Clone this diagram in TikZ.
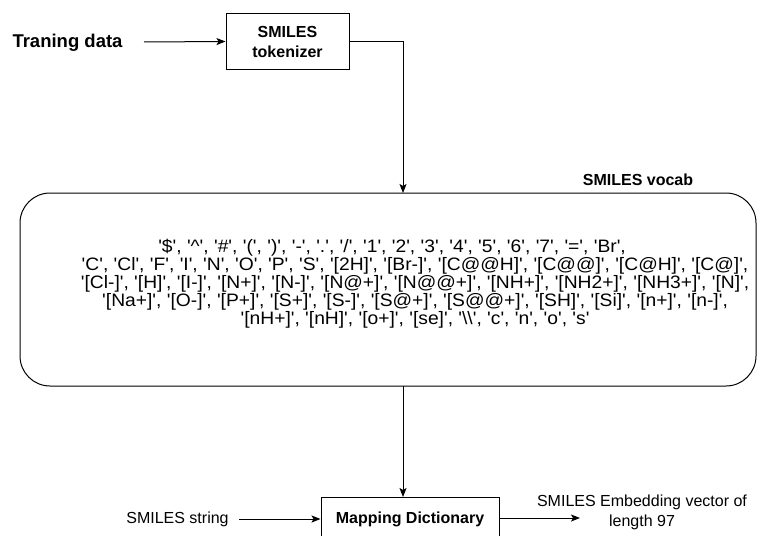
\documentclass[tikz,border=0pt]{standalone}
\usepackage{fontspec}
\newfontfamily\lib{Liberation Sans}
\newfontfamily\libwide{Liberation Sans}[FakeStretch=1.07]
\usetikzlibrary{arrows.meta}
\tikzset{
  x=1pt, y=-1pt,
  every node/.style={font=\lib, inner sep=0pt},
  conn/.style={line width=1pt, -{Stealth[length=9pt,width=7pt,inset=2pt]}},
  plainconn/.style={line width=1pt},
  box/.style={draw, line width=1pt},
}
\begin{document}
\begin{tikzpicture}
\useasboundingbox (0,0) rectangle (757,535);
\clip (0,0) rectangle (757,535);
% training
\node[font=\lib\bfseries\fontsize{18.5}{22}\selectfont] (train) at (67.5,43) {Traning data};
\node[box, minimum width=123pt, minimum height=55pt, align=center,
      font=\lib\bfseries\fontsize{16}{20}\selectfont] (tok) at (287.5,41.5) {SMILES\\tokenizer};
\coordinate (trainend) at (144,42);
\draw[conn] (trainend) -- (tok.west);
% vocab
\draw[box, rounded corners=30pt] (20,193) rectangle (756,386);
\coordinate (vtop) at (403,193);
\coordinate (vbot) at (403,386);
\node[font=\lib\bfseries\fontsize{16}{19}\selectfont] (vlabel) at (638,180) {SMILES vocab};
\coordinate (tokturn) at (403,41.5);
\draw[plainconn] (tok.east) -- (tokturn);
\draw[conn] (tokturn) -- (vtop);
\node[align=center, font=\libwide\fontsize{18}{18}\selectfont] (vtext) at (415,284) {%
'\$', '\textasciicircum', '\#', '(', ')', '-', '.', '/', '1', '2', '3', '4', '5', '6', '7', '=', 'Br',\hspace*{46pt}\\
'C', 'Cl', 'F', 'I', 'N', 'O', 'P', 'S', '[2H]', '[Br-]', '[C@@H]', '[C@@]', '[C@H]', '[C@]',\\
'[Cl-]', '[H]', '[I-]', '[N+]', '[N-]', '[N@+]', '[N@@+]', '[NH+]', '[NH2+]', '[NH3+]', '[N]',\\
'[Na+]', '[O-]', '[P+]', '[S+]', '[S-]', '[S@+]', '[S@@+]', '[SH]', '[Si]', '[n+]', '[n-]',\\
'[nH+]', '[nH]', '[o+]', '[se]', '\textbackslash\textbackslash', 'c', 'n', 'o', 's'};
% mapping
\node[box, minimum width=178pt, minimum height=60pt, anchor=north] (map) at (410,497) {};
\node[font=\lib\bfseries\fontsize{16}{19}\selectfont] (maptext) at (410,519) {Mapping Dictionary};
\draw[conn] (vbot) -- (map.north -| vbot);
\node[font=\lib\fontsize{16}{19}\selectfont] (sstr) at (177.5,519) {SMILES string};
\coordinate (sstrend) at (239,519);
\draw[conn] (sstrend) -- (sstrend -| map.west);
\coordinate (outend) at (580,518);
\draw[conn] (map.east |- outend) -- (outend);
\node[align=center, font=\lib\fontsize{16}{20}\selectfont] (emb) at (642,512) {SMILES Embedding vector of\\length 97};
\end{tikzpicture}
\end{document}
